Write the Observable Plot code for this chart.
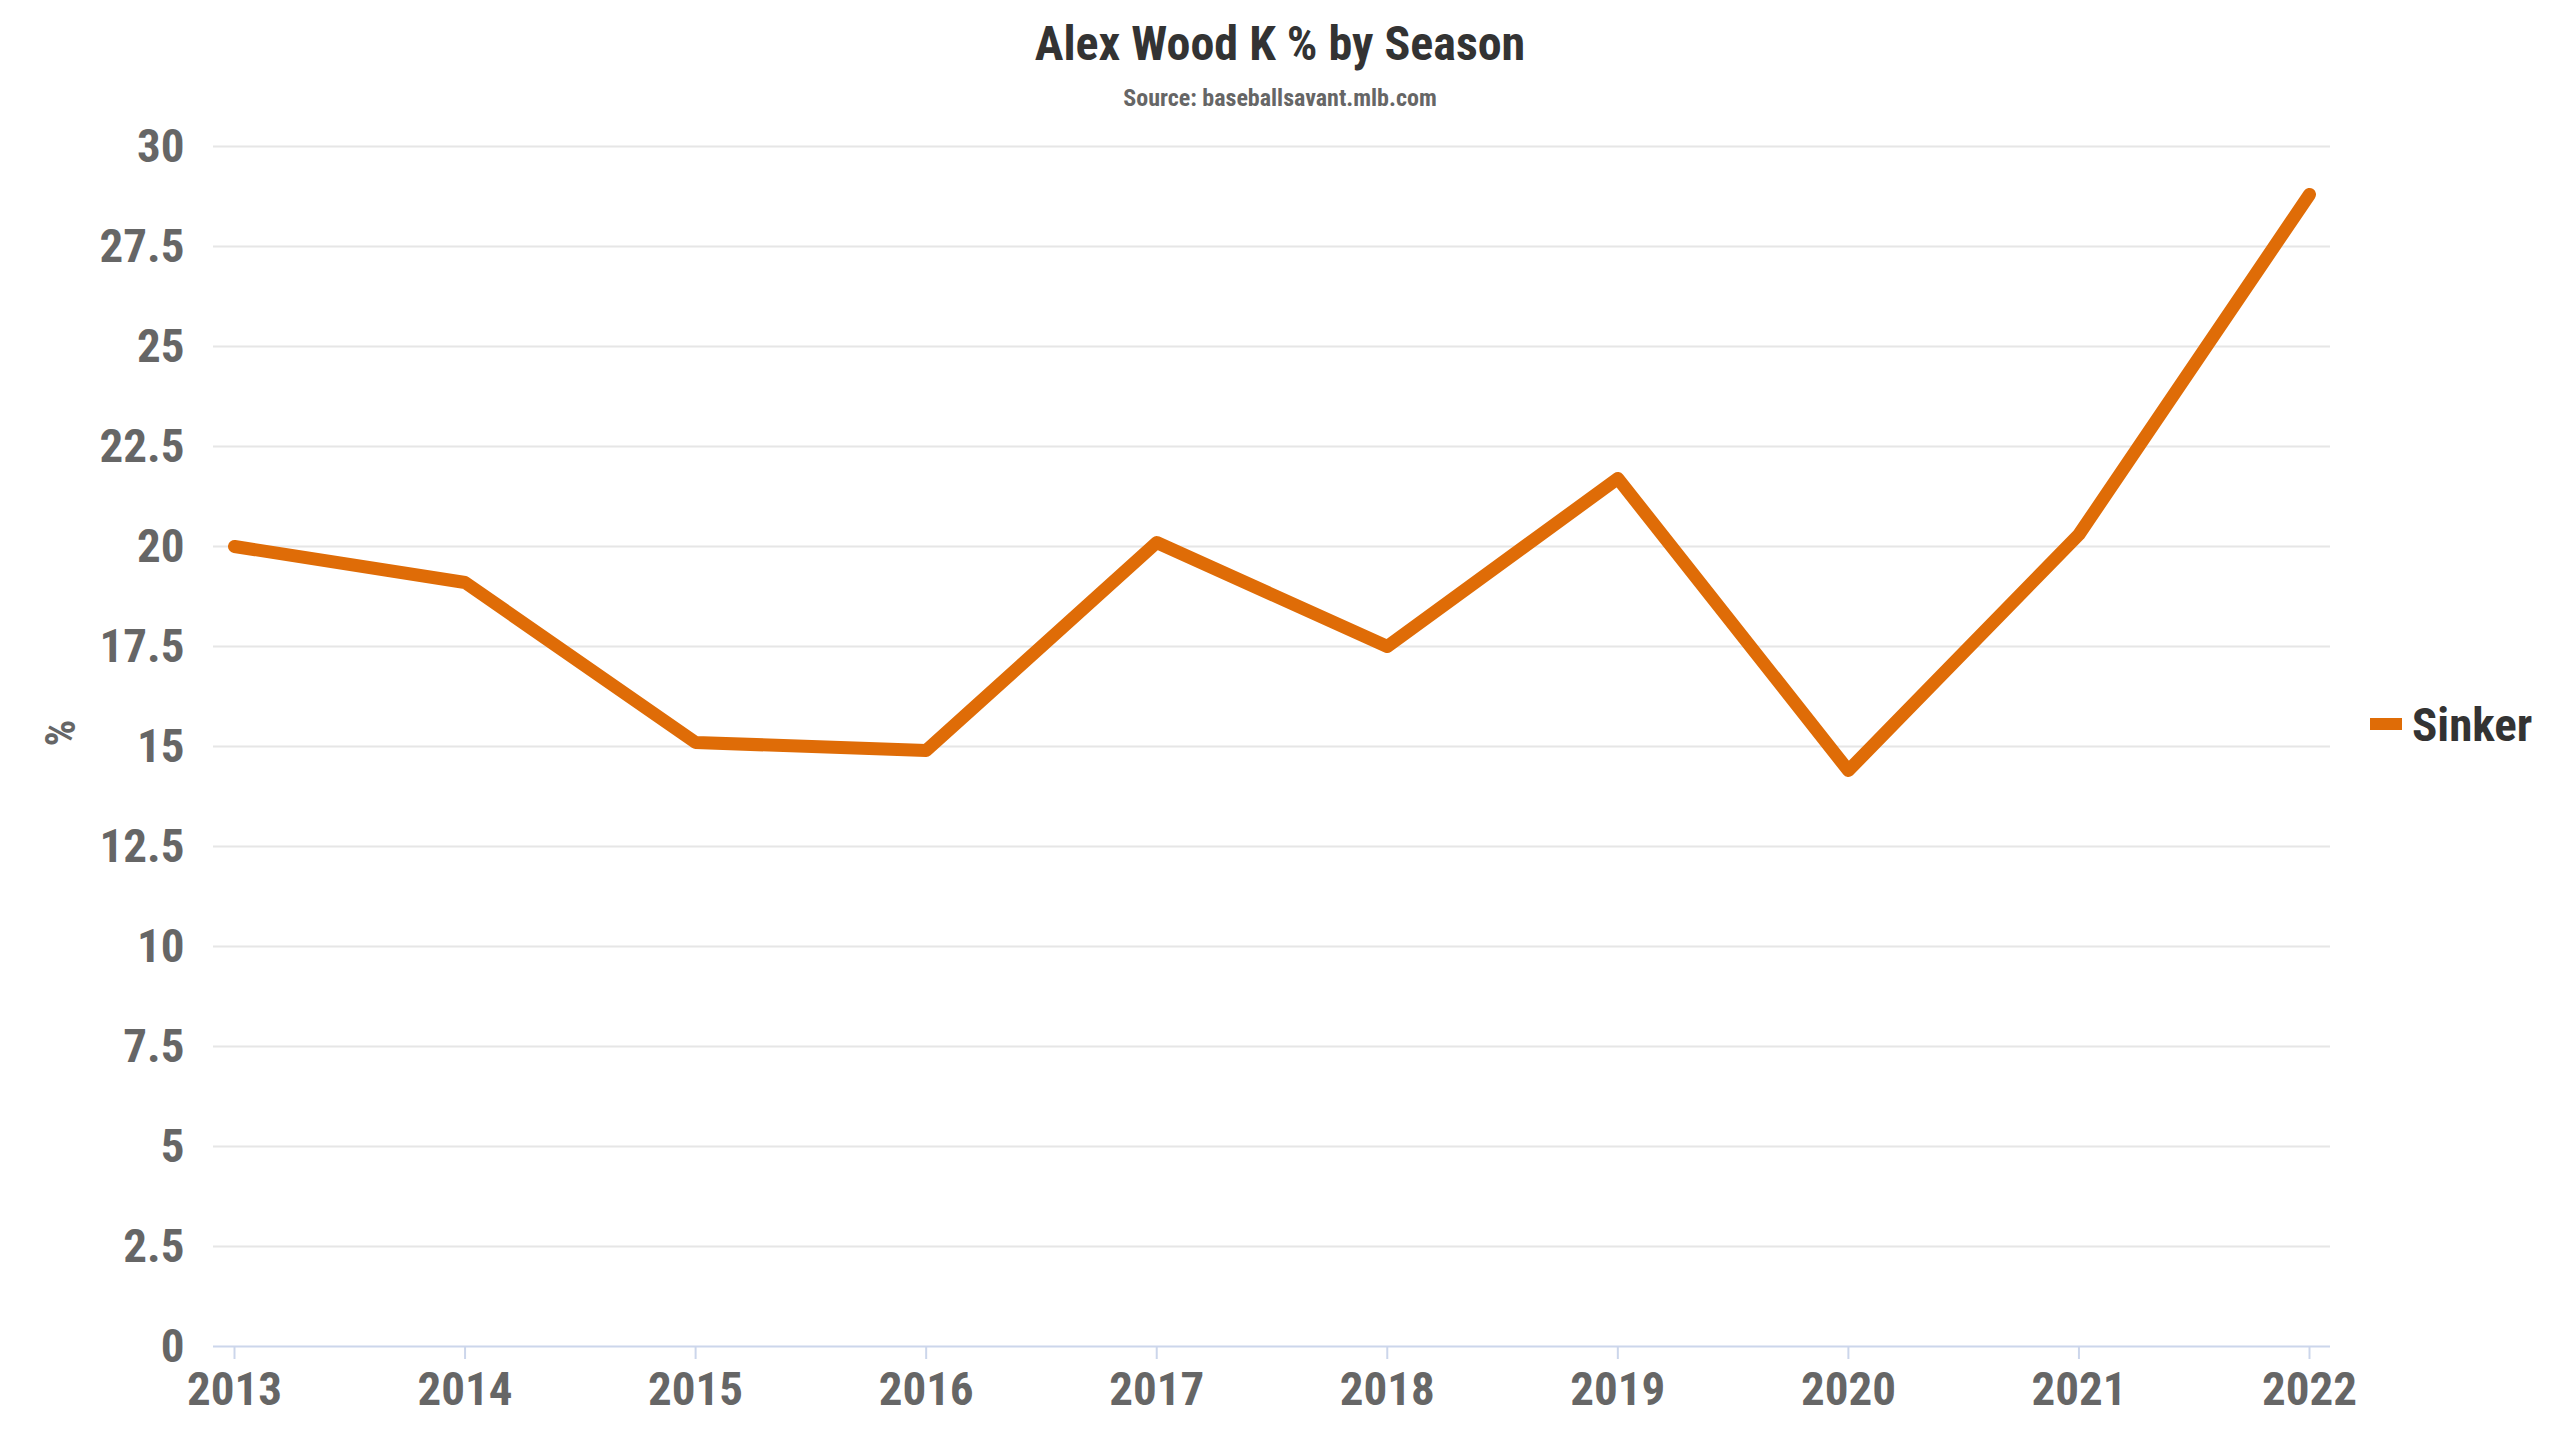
<!DOCTYPE html>
<html>
<head>
<meta charset="utf-8">
<script src="https://cdn.jsdelivr.net/npm/d3@7"></script>
<script src="https://cdn.jsdelivr.net/npm/@observablehq/plot@0.6"></script>
<style>
  html, body { margin: 0; padding: 0; background: #fff; }
  body { width: 2560px; height: 1440px; overflow: hidden;
         font-family: "Roboto Condensed", Roboto, "Liberation Sans Narrow", "DejaVu Sans Condensed", sans-serif;
         font-stretch: 75%; }
  #wrap { position: relative; width: 2560px; height: 1440px; }
  #header { position: relative; width: 2560px; height: 120px; }
  #title { position: absolute; left: 0; width: 2560px; top: 15px; text-align: center;
           font-size: 48px; font-weight: 700; color: #333; line-height: 58px; }
  #subtitle { position: absolute; left: 0; width: 2560px; top: 84px; text-align: center;
              font-size: 24px; font-weight: 700; color: #666; line-height: 28px; }
  #legend { position: absolute; left: 2370px; top: 695px; height: 58px; display: flex; align-items: center;
            font-size: 47px; font-weight: 700; color: #333; }
  #legend .sw { width: 32px; height: 12px; background: #DF6C07; margin-right: 10px; }
  svg text { font-stretch: 75%; }
</style>
</head>
<body>
<div id="wrap">
  <div id="header">
    <div id="title">Alex Wood K % by Season</div>
    <div id="subtitle">Source: baseballsavant.mlb.com</div>
  </div>
  <div id="chart"></div>
  <div id="legend"><div class="sw"></div><div>Sinker</div></div>
</div>
<script>
const seasons = [2013, 2014, 2015, 2016, 2017, 2018, 2019, 2020, 2021, 2022];
const kPct = [20.0, 19.1, 15.1, 14.9, 20.1, 17.5, 21.7, 14.4, 20.3, 28.8];
const yTicks = [0, 2.5, 5, 7.5, 10, 12.5, 15, 17.5, 20, 22.5, 25, 27.5, 30];
const seriesName = "Sinker";

const data = seasons.map((s, i) => ({season: s, value: kPct[i], series: seriesName}));
const font = `"Roboto Condensed", Roboto, "Liberation Sans Narrow", "DejaVu Sans Condensed", sans-serif`;

const chart = Plot.plot({
  width: 2560,
  height: 1320,
  marginTop: 26,
  marginBottom: 94,
  marginLeft: 213,
  marginRight: 230,
  style: {fontFamily: font, background: "#fff", overflow: "visible"},
  x: {domain: [2013, 2022], inset: 21},
  y: {domain: [0, 30]},
  marks: [
    Plot.ruleY(yTicks.filter(d => d !== 0), {stroke: "#e6e6e6", strokeWidth: 2}),
    Plot.ruleY([0], {stroke: "#ccd6eb", strokeWidth: 2}),
    Plot.axisY(yTicks, {
      tickSize: 0, tickPadding: 29, fontSize: 47, fontWeight: 700, fill: "#666",
      tickFormat: d => String(d), label: null
    }),
    Plot.axisX(seasons, {
      tickSize: 13, tickPadding: 12, fontSize: 47, fontWeight: 700, fill: "#666",
      stroke: "#ccd6eb", strokeWidth: 2, strokeOpacity: 1,
      tickFormat: d => String(d), label: null
    }),
    Plot.text(["%"], {frameAnchor: "left", rotate: -90, dx: -152, fontSize: 42, fontWeight: 700, fill: "#666"}),
    Plot.line(data, {x: "season", y: "value", stroke: "#DF6C07", strokeWidth: 13,
                     strokeLinecap: "round", strokeLinejoin: "round"})
  ]
});
document.getElementById("chart").appendChild(chart);
</script>
</body>
</html>
